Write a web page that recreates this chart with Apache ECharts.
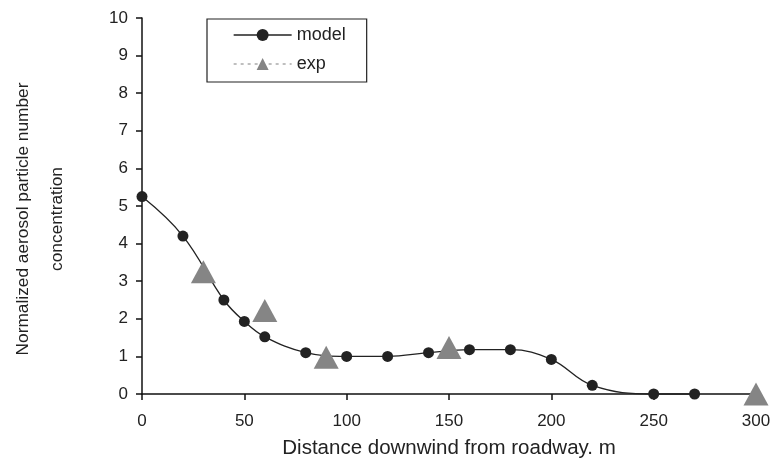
<!DOCTYPE html>
<html>
<head>
<meta charset="utf-8">
<script src="https://cdn.jsdelivr.net/npm/echarts@6/dist/echarts.min.js"></script>
<style>
  html, body { margin: 0; padding: 0; background: #fff; }
  #chart { width: 772px; height: 470px; }
</style>
</head>
<body>
<div id="chart"></div>
<script>
// distance downwind (m) and normalized concentration
let modelX = [0, 20, 40, 50, 60, 80, 100, 120, 140, 160, 180, 200, 220, 250, 270];
let modelY = [5.25, 4.2, 2.5, 1.93, 1.52, 1.1, 1.0, 1.0, 1.1, 1.18, 1.18, 0.92, 0.23, 0, 0];
let expX = [30, 60, 90, 150, 300];
let expY = [3.25, 2.22, 0.98, 1.24, 0];
let xTicks = [0, 50, 100, 150, 200, 250, 300];
let yTicks = [0, 1, 2, 3, 4, 5, 6, 7, 8, 9, 10];

let font = 'Liberation Sans, Arial, sans-serif';
let chart = echarts.init(document.getElementById('chart'));

let zip = (xs, ys) => xs.map((x, i) => [x, ys[i]]);

let axisLine = {lineStyle: {color: '#111', width: 1.5}};
let axisTick = {show: true, inside: false, length: 6, lineStyle: {color: '#111', width: 1.5}};

chart.setOption({
  animation: false,
  backgroundColor: '#fff',
  grid: {left: 142, right: 16, top: 18, bottom: 76, containLabel: false, outerBoundsMode: 'none'},
  legend: {
    orient: 'vertical',
    left: 207,
    top: 19,
    padding: [6, 21, 8, 26],
    itemGap: 9,
    itemWidth: 58,
    itemHeight: 15,
    borderColor: '#222',
    borderWidth: 1.2,
    borderRadius: 0,
    textStyle: {fontSize: 18, fontFamily: font, color: '#222', lineHeight: 20},
    data: [
      {name: 'model', lineStyle: {width: 1.3, color: '#222'}},
      {name: 'exp', lineStyle: {width: 1.3, type: [3, 4], color: '#aaa'}}
    ]
  },
  xAxis: {
    type: 'value',
    min: xTicks[0],
    max: xTicks[xTicks.length - 1],
    interval: 50,
    name: 'Distance downwind from roadway. m',
    nameLocation: 'middle',
    nameGap: 44,
    nameTextStyle: {fontSize: 20.5, fontFamily: font, color: '#222'},
    axisLine: axisLine,
    axisTick: axisTick,
    axisLabel: {color: '#222', fontSize: 17, fontFamily: font, margin: 19},
    splitLine: {show: false}
  },
  yAxis: {
    type: 'value',
    min: yTicks[0],
    max: yTicks[yTicks.length - 1],
    interval: 1,
    name: 'Normalized aerosol particle number\nconcentration',
    nameLocation: 'middle',
    nameGap: 68,
    nameTextStyle: {fontSize: 17.3, fontFamily: font, color: '#222', lineHeight: 34, align: 'center', padding: [0, 26, 0, 0]},
    axisLine: axisLine,
    axisTick: axisTick,
    axisLabel: {color: '#222', fontSize: 17, fontFamily: font, margin: 14},
    splitLine: {show: false}
  },
  series: [
    {
      name: 'model',
      type: 'line',
      smooth: 0.4,
      data: zip(modelX, modelY),
      symbol: 'circle',
      symbolSize: 11,
      clip: false,
      itemStyle: {color: '#222'},
      lineStyle: {color: '#222', width: 1.3}
    },
    {
      name: 'exp',
      type: 'line',
      data: zip(expX, expY),
      symbol: 'triangle',
      symbolSize: [25, 23],
      clip: false,
      itemStyle: {color: '#858585'},
      lineStyle: {width: 0, color: '#999'},
      z: 3
    }
  ]
});
</script>
</body>
</html>
